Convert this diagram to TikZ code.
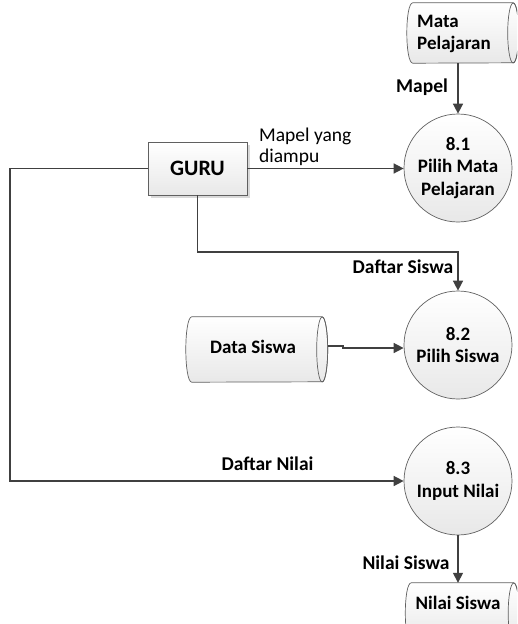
\documentclass[tikz,border=0pt]{standalone}
\usepackage{fontspec}
\setmainfont{Carlito}
\usetikzlibrary{arrows.meta}
\definecolor{ln}{HTML}{404040}
\definecolor{bd}{HTML}{606060}
\definecolor{shd}{HTML}{E8E8E8}
\newcommand\storeshape[4]{% name, half-width of ellipse, arc depth, half height
  \path[draw=bd,line width=0.7pt,top color=white,bottom color=shd]
    (#1.north west) -- (#1.north east)
    arc[start angle=90,end angle=-90,x radius=#2,y radius=#4]
    -- (#1.south west)
    .. controls ([xshift=-#3]#1.south west) and ([xshift=-#3]#1.north west) .. (#1.north west) -- cycle;
  \draw[draw=bd,line width=0.7pt] (#1.east) ellipse[x radius=#2,y radius=#4];
}
\begin{document}
\begin{tikzpicture}[x=1pt,y=-1pt,
  proc/.style={circle,draw=bd,line width=0.7pt,minimum size=108pt,inner sep=0pt,
    top color=white,bottom color=shd,align=center,font=\fontsize{19}{22.5}\selectfont\bfseries},
  flow/.style={draw=ln,line width=1.5pt,-{Triangle[length=10pt,width=10pt]}},
  lbl/.style={font=\fontsize{19.5}{21}\selectfont\bfseries,inner sep=0pt},
  nlbl/.style={font=\fontsize{19.5}{21}\selectfont,inner sep=0pt,align=left},
  stext/.style={font=\fontsize{19}{22.5}\selectfont\bfseries,inner sep=0pt},
  storebox/.style={minimum width=#1,minimum height=60pt,inner sep=0pt},
]
\useasboundingbox (0,0) rectangle (517,624);
\begin{scope}
\clip (0,0) rectangle (517,624);

% processes
\node[proc] (p1) at (458,168) {8.1\\Pilih Mata\\Pelajaran};
\node[proc] (p2) at (458,345) {8.2\\Pilih Siswa};
\node[proc] (p3) at (458,481) {8.3\\Input Nilai};

% GURU
\fill[black!15] (151,145) rectangle (250,198);
\node[draw=bd,line width=0.7pt,top color=white,bottom color=shd,minimum width=99pt,minimum height=53pt,inner sep=0pt,
  font=\fontsize{22}{24}\selectfont\bfseries] (guru) at (197.5,168.5) {GURU};

% stores
\node[storebox=100pt] (ms) at (463,33) {};
\storeshape{ms}{5.5pt}{8pt}{30pt}
\node[stext,align=left] (mst) at (454,34) {Mata\\Pelajaran};

\node[storebox=130pt,minimum height=65pt] (ds) at (257,349.5) {};
\storeshape{ds}{5.5pt}{8pt}{32.5pt}
\node[stext] (dst) at (253,347) {Data Siswa};

\node[storebox=102pt] (ns) at (462.5,613) {};
\storeshape{ns}{5.5pt}{8pt}{30pt}
\node[stext] (nst) at (458,603) {Nilai Siswa};

% flows
\draw[flow] (p1.north |- ms.south) -- (p1.north);
\node[lbl] (l1) at (422,87) {Mapel};

\draw[flow] (guru.east) -- (p1.west |- guru.east);
\node[nlbl,anchor=south west] (l2) at (259,166) {Mapel yang\\diampu};

\coordinate (c1) at (197.5,252);
\draw[flow] (guru.south) -- (c1) -| (p2.north);
\node[lbl] (l3) at (403,267) {Daftar Siswa};

\coordinate (c2) at (10,168.5);
\coordinate (c3) at (10,481);
\draw[flow] (guru.west) -- (c2) -- (c3) -- (p3.west);
\node[lbl] (l4) at (267.5,464) {Daftar Nilai};

\coordinate (d1) at (343,346);
\coordinate (d2) at (343,348);
\draw[flow] ([xshift=5.5pt,yshift=3.5pt]ds.east) -- (d1) -- (d2) -- ([yshift=-3pt]p2.west);

\draw[flow] (p3.south) -- (p3.south |- ns.north);
\node[lbl] (l5) at (406,563) {Nilai Siswa};
\end{scope}
\end{tikzpicture}
\end{document}
